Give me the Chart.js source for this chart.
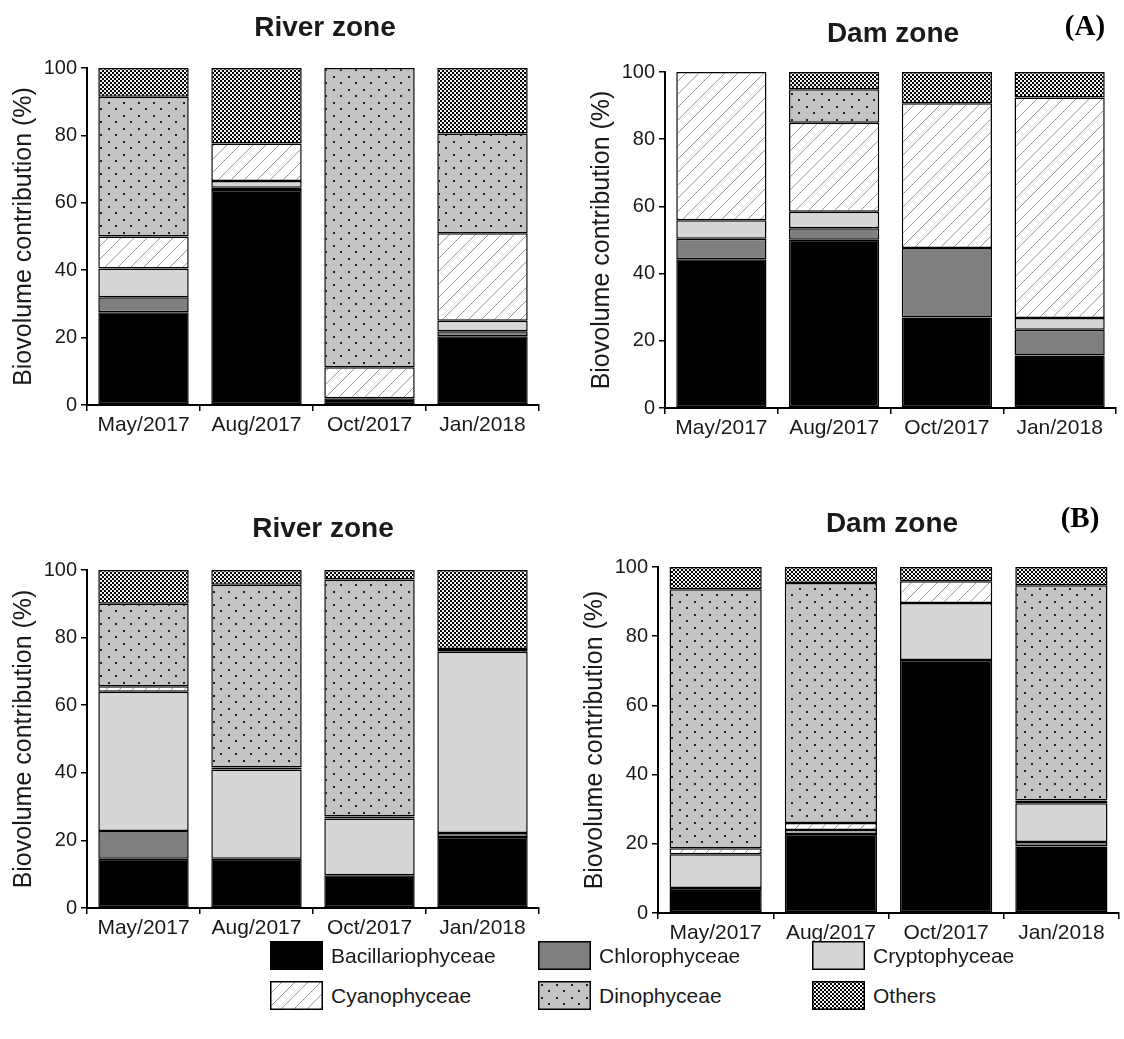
<!DOCTYPE html>
<html>
<head>
<meta charset="utf-8">
<title>Biovolume contribution</title>
<script src="https://cdn.jsdelivr.net/npm/chart.js@4.4.1/dist/chart.umd.min.js"></script>
<style>
    html, body { margin: 0; background: #fff; }
    body {
        width: 1124px; height: 1039px; position: relative; overflow: hidden;
        font-family: 'Liberation Sans', Arial, sans-serif; color: #1a1a1a;
    }
    canvas.panel { position: absolute; }
    .zone {
        position: absolute; transform: translate(-50%, -50%);
        font-size: 28px; font-weight: bold; white-space: nowrap;
    }
    .tag {
        position: absolute; transform: translate(-50%, -50%);
        font-family: 'Liberation Serif', 'Times New Roman', serif;
        font-size: 29px; font-weight: bold; color: #000;
    }
    .legend-item {
        position: absolute; display: flex; align-items: center;
        font-size: 21px; white-space: nowrap;
    }
    .legend-item canvas { margin-right: 8px; }
</style>
</head>
<body>
<canvas id="riverA" class="panel"></canvas>
<canvas id="damA" class="panel"></canvas>
<canvas id="riverB" class="panel"></canvas>
<canvas id="damB" class="panel"></canvas>

<div class="zone" style="left:325px; top:27px">River zone</div>
<div class="zone" style="left:893px; top:33px">Dam zone</div>
<div class="zone" style="left:323px; top:528px">River zone</div>
<div class="zone" style="left:892px; top:523px">Dam zone</div>
<div class="tag" style="left:1085px; top:25px">(A)</div>
<div class="tag" style="left:1080px; top:517px">(B)</div>

<div id="legend"></div>

<script>
const months = ['May/2017', 'Aug/2017', 'Oct/2017', 'Jan/2018'];
const groups = ['Bacillariophyceae', 'Chlorophyceae', 'Cryptophyceae', 'Cyanophyceae', 'Dinophyceae', 'Others'];
const yTicks = [0, 20, 40, 60, 80, 100];

// Biovolume share (%) per group, rows in the order of `groups`, one value per month
const riverA = [
    [27.5, 63.8, 2.0, 20.4],
    [4.5, 0.7, 0, 1.5],
    [8.5, 2.0, 0, 3.1],
    [9.5, 11.1, 9.2, 26.0],
    [41.5, 0, 88.8, 29.6],
    [8.5, 22.4, 0, 19.4]
];
const damA = [
    [44.3, 50.1, 26.9, 15.6],
    [6.1, 3.4, 20.7, 7.7],
    [5.5, 4.9, 0, 3.5],
    [44.1, 26.5, 43.1, 65.6],
    [0, 10.0, 0, 0],
    [0, 5.1, 9.3, 7.6]
];
const riverB = [
    [14.6, 14.6, 9.7, 21.0],
    [8.2, 0, 0, 1.2],
    [41.2, 26.4, 16.8, 53.6],
    [1.6, 0.6, 0.6, 0.8],
    [24.4, 54.0, 70.1, 0],
    [10.0, 4.4, 2.8, 23.4]
];
const damB = [
    [7.2, 22.8, 73.1, 19.2],
    [0, 0, 0, 1.3],
    [9.8, 1.2, 16.5, 11.2],
    [1.7, 2.0, 6.3, 0.8],
    [74.9, 69.4, 0, 62.2],
    [6.4, 4.6, 4.1, 5.3]
];

const FONT = "'Liberation Sans', Arial, sans-serif";
const INK = '#1a1a1a';

// Small repeating tiles used as fills
function makeTile(w, h, paint) {
    const c = document.createElement('canvas');
    c.width = w;
    c.height = h;
    const ctx = c.getContext('2d');
    paint(ctx, w, h);
    return ctx.createPattern(c, 'repeat');
}

const hatch = makeTile(13, 13, (ctx, w, h) => {
    ctx.fillStyle = '#fff';
    ctx.fillRect(0, 0, w, h);
    ctx.strokeStyle = '#9a9a9a';
    ctx.lineWidth = 1;
    ctx.beginPath();
    ctx.moveTo(-1, h + 1); ctx.lineTo(w + 1, -1);
    ctx.moveTo(-w / 2, h / 2); ctx.lineTo(w / 2, -h / 2);
    ctx.moveTo(w / 2, h * 1.5); ctx.lineTo(w * 1.5, h / 2);
    ctx.stroke();
});

const dots = makeTile(15, 13, (ctx, w, h) => {
    ctx.fillStyle = '#c3c3c3';
    ctx.fillRect(0, 0, w, h);
    ctx.fillStyle = '#222';
    ctx.fillRect(3, 3, 2, 2);
    ctx.fillRect(10, 9, 2, 2);
});

const checker = makeTile(4, 4, (ctx) => {
    ctx.fillStyle = '#f2f2f2';
    ctx.fillRect(0, 0, 4, 4);
    ctx.fillStyle = '#000';
    ctx.fillRect(0, 0, 2, 2);
    ctx.fillRect(2, 2, 2, 2);
});

const fills = ['#000', '#7f7f7f', '#d6d6d6', hatch, dots, checker];

function buildDatasets(rows) {
    return groups.map((name, i) => ({
        label: name,
        data: rows[i],
        backgroundColor: fills[i],
        borderColor: '#000',
        borderWidth: 1.5,
        borderSkipped: false,
        barPercentage: 0.8,
        categoryPercentage: 1.0
    }));
}

// plot box is [left, top, right, bottom] in page pixels
function drawPanel(id, rows, plot) {
    const yAxisW = 87, xAxisH = 40, padTop = 60, padRight = 20, padBottom = 10;
    const canvas = document.getElementById(id);
    const left = plot[0] - yAxisW;
    const top = plot[1] - padTop;
    canvas.style.left = left + 'px';
    canvas.style.top = top + 'px';
    canvas.width = plot[2] + padRight - left;
    canvas.height = plot[3] + xAxisH + padBottom - top;

    return new Chart(canvas, {
        type: 'bar',
        data: { labels: months, datasets: buildDatasets(rows) },
        options: {
            responsive: false,
            animation: false,
            layout: { padding: { left: 0, top: padTop, right: padRight, bottom: padBottom } },
            plugins: { legend: { display: false }, tooltip: { enabled: false } },
            scales: {
                x: {
                    stacked: true,
                    grid: { offset: true, drawOnChartArea: false, color: '#000', lineWidth: 1.5, tickLength: 6 },
                    border: { display: true, color: '#000', width: 2 },
                    ticks: { color: INK, font: { family: FONT, size: 21 }, padding: 2, maxRotation: 0, autoSkip: false },
                    afterFit: s => { s.height = xAxisH; }
                },
                y: {
                    stacked: true,
                    min: 0,
                    max: 100,
                    afterBuildTicks: s => { s.ticks = yTicks.map(v => ({ value: v })); },
                    grid: { drawOnChartArea: false, color: '#000', lineWidth: 1.5, tickLength: 6 },
                    border: { display: true, color: '#000', width: 2 },
                    ticks: { color: INK, font: { family: FONT, size: 20 }, padding: 4 },
                    title: {
                        display: true,
                        text: 'Biovolume contribution (%)',
                        color: INK,
                        font: { family: FONT, size: 25 },
                        padding: { top: 9, bottom: 0 }
                    },
                    afterFit: s => { s.width = yAxisW; }
                }
            }
        }
    });
}

drawPanel('riverA', riverA, [87, 68, 539, 405]);
drawPanel('damA', damA, [665, 72, 1116, 408]);
drawPanel('riverB', riverB, [87, 570, 539, 908]);
drawPanel('damB', damB, [658, 567, 1119, 913]);

// Shared legend, three per row
const legendSpots = [[270, 941], [538, 941], [812, 941], [270, 981], [538, 981], [812, 981]];
const legend = document.getElementById('legend');
groups.forEach((name, i) => {
    const item = document.createElement('div');
    item.className = 'legend-item';
    item.style.left = legendSpots[i][0] + 'px';
    item.style.top = legendSpots[i][1] + 'px';
    const sw = document.createElement('canvas');
    sw.width = 53;
    sw.height = 29;
    const ctx = sw.getContext('2d');
    ctx.fillStyle = fills[i];
    ctx.fillRect(0, 0, sw.width, sw.height);
    ctx.strokeStyle = '#000';
    ctx.lineWidth = 1.5;
    ctx.strokeRect(0.75, 0.75, sw.width - 1.5, sw.height - 1.5);
    const label = document.createElement('span');
    label.textContent = name;
    item.appendChild(sw);
    item.appendChild(label);
    legend.appendChild(item);
});
</script>
</body>
</html>
